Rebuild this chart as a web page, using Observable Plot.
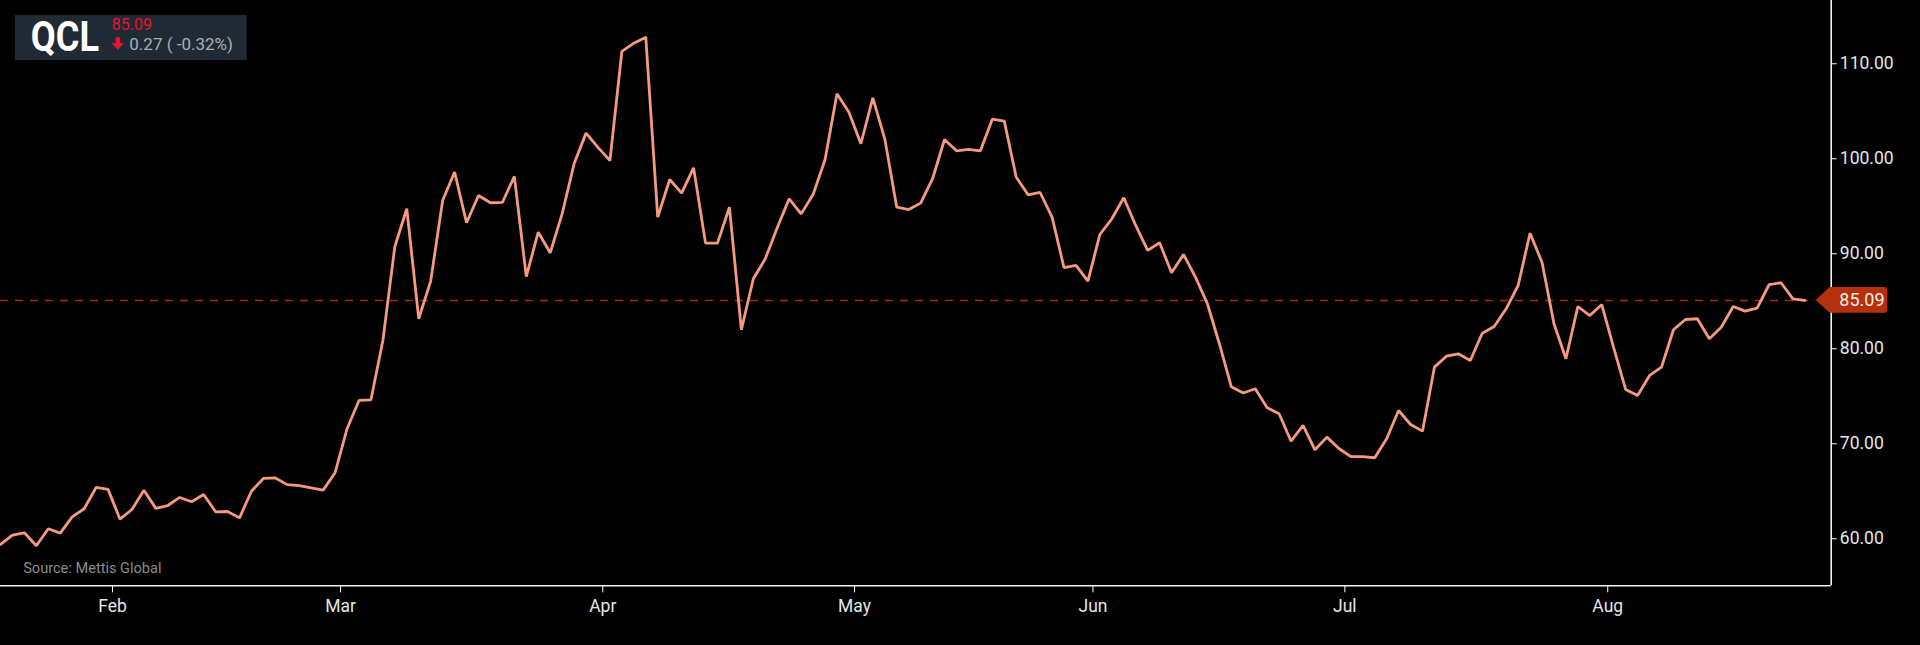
<!DOCTYPE html>
<html>
<head>
<meta charset="utf-8">
<script src="https://cdn.jsdelivr.net/npm/d3@7"></script>
<script src="https://cdn.jsdelivr.net/npm/@observablehq/plot@0.6"></script>
<style>
  html, body { margin: 0; padding: 0; background: #000; }
  #wrap { position: relative; width: 1920px; height: 645px; overflow: hidden; background: #000; font-family: Roboto, sans-serif; }
  #badge { position: absolute; left: 0; top: 0; }
</style>
</head>
<body>
<div id="wrap"></div>
<script>
// ---- data ----
const symbol = "QCL";
const lastValue = 85.09;
const changeText = "0.27 ( -0.32%)";
const source = "Source: Mettis Global";

const values = [
  59.4, 60.38, 60.63, 59.26, 61.05, 60.6, 62.3, 63.16, 65.4, 65.2,
  62.06, 63.08, 65.1, 63.2, 63.5, 64.35, 63.9, 64.66, 62.84, 62.87,
  62.2, 65.0, 66.35, 66.4, 65.7, 65.6, 65.37, 65.12, 66.95, 71.58,
  74.56, 74.63, 80.87, 90.77, 94.74, 83.16, 87.12, 95.6, 98.6, 93.26,
  96.14, 95.37, 95.4, 98.14, 87.6, 92.27, 90.1, 94.2, 99.47, 102.7,
  101.2, 99.8, 111.3, 112.17, 112.8, 93.85, 97.82, 96.38, 99.05, 91.12,
  91.12, 94.9, 82.0, 87.37, 89.47, 92.74, 95.79, 94.2, 96.24, 99.9,
  106.84, 104.9, 101.58, 106.42, 102.1, 94.9, 94.66, 95.33, 97.9, 102.03,
  100.84, 101.0, 100.84, 104.17, 103.96, 98.06, 96.2, 96.45, 93.85, 88.53,
  88.77, 87.12, 92.03, 93.68, 95.89, 92.98, 90.35, 91.16, 88.0, 89.93,
  87.54, 84.74, 80.53, 76.0, 75.35, 75.79, 73.79, 73.16, 70.27, 71.93,
  69.37, 70.7, 69.5, 68.65, 68.65, 68.53, 70.53, 73.5, 72.03, 71.33,
  78.07, 79.22, 79.47, 78.77, 81.64, 82.35, 84.21, 86.66, 92.17, 89.1,
  82.63, 78.95, 84.45, 83.5, 84.66, 80.1, 75.72, 75.08, 77.19, 78.07,
  82.0, 83.08, 83.16, 81.05, 82.27, 84.45, 83.96, 84.27, 86.74, 86.95,
  85.26, 85.09
];

// month tick positions (in trading-session index units) and labels
const monthPos = [9.37, 28.45, 50.4, 71.47, 91.42, 112.5, 134.5];
const monthLabels = ["Feb", "Mar", "Apr", "May", "Jun", "Jul", "Aug"];
const yTicks = [60, 70, 80, 90, 100, 110];
const xDomain = [0, 153.2];
const yDomain = [55.05, 116.66];

const data = values.map((v, i) => ({i, v}));

// price tag on the right axis, positioned through the y scale
function priceTag(index, scales, vals, dims) {
  const y = scales.y(lastValue);
  const x0 = dims.width - dims.marginRight;
  const g = d3.create("svg:g");
  const h = 12.8, w = 56.6, r = 3;
  g.append("path")
    .attr("fill", "#b6300e")
    .attr("d", `M${x0 - 15},${y} L${x0 - 1},${y - h} H${x0 + w - r} Q${x0 + w},${y - h} ${x0 + w},${y - h + r} V${y + h - r} Q${x0 + w},${y + h} ${x0 + w - r},${y + h} H${x0 - 1} Z`);
  g.append("text")
    .attr("x", x0 + 8.6).attr("y", y).attr("dy", "0.35em")
    .attr("text-anchor", "start")
    .attr("fill", "#f5ebe6").attr("font-size", 18).attr("font-family", "Roboto, sans-serif")
    .text(lastValue.toFixed(2));
  return g.node();
}

const chart = Plot.plot({
  width: 1920, height: 645,
  marginLeft: 0, marginRight: 89.3, marginTop: 0, marginBottom: 59.7,
  x: {domain: xDomain},
  y: {domain: yDomain},
  style: {background: "#000", color: "#e6e6e6", fontFamily: "Roboto, sans-serif", overflow: "visible"},
  marks: [
    Plot.ruleY([lastValue], {stroke: "#a62a0c", strokeWidth: 1.5, strokeDasharray: "8,7", insetRight: 15}),
    Plot.lineY(data, {x: "i", y: "v", stroke: "#f59a7e", strokeWidth: 2.8, strokeLinejoin: "miter"}),
    Plot.text([source], {text: d => d, frameAnchor: "bottom-left", dx: 22.7, dy: -17.3, textAnchor: "start", lineAnchor: "middle", fill: "#8a8a8a", fontSize: 15}),
    Plot.axisY({anchor: "right", ticks: yTicks, tickFormat: d => d.toFixed(2), tickSize: 5, tickPadding: 3.6, stroke: "#fff", fill: "#e6e6e6", fontSize: 17.5, label: null}),
    Plot.axisX({anchor: "bottom", ticks: monthPos, tickFormat: d => monthLabels[monthPos.indexOf(d)], tickSize: 7, tickPadding: 5.5, stroke: "#fff", fill: "#e6e6e6", fontSize: 19, label: null}),
    Plot.ruleX([xDomain[1]], {stroke: "#f2f2f2", strokeWidth: 1.6}),
    Plot.ruleY([yDomain[0]], {stroke: "#f2f2f2", strokeWidth: 1.6}),
    priceTag
  ]
});

const wrap = document.getElementById("wrap");
wrap.appendChild(chart);

// condensed look for the x tick labels and source line
chart.querySelectorAll('g[aria-label="x-axis tick label"] text').forEach(t => {
  const L = t.getComputedTextLength();
  t.setAttribute("textLength", (L * 0.92).toFixed(1));
  t.setAttribute("lengthAdjust", "spacingAndGlyphs");
});
chart.querySelectorAll("text").forEach(t => {
  if (t.textContent === source) {
    t.setAttribute("textLength", "138.3");
    t.setAttribute("lengthAdjust", "spacingAndGlyphs");
  }
});

// ticker badge overlay (top-left)
const badge = d3.select(wrap).append("svg").attr("id", "badge")
  .attr("width", 260).attr("height", 70);
badge.append("rect").attr("x", 15).attr("y", 15).attr("width", 231.7).attr("height", 45).attr("fill", "#1f2a35");
badge.append("text").attr("x", 30.7).attr("y", 50.7)
  .attr("font-family", "Roboto, sans-serif").attr("font-weight", 700).attr("font-size", 42)
  .attr("fill", "#fff").attr("textLength", 68.3).attr("lengthAdjust", "spacingAndGlyphs")
  .text(symbol);
badge.append("text").attr("x", 111.7).attr("y", 30)
  .attr("font-family", "Roboto, sans-serif").attr("font-size", 16).attr("fill", "#e8132f")
  .text(lastValue.toFixed(2));
badge.append("path").attr("fill", "#e8132f")
  .attr("d", "M115.6,37.3 H120.2 V43 H124 L117.9,50 L111.7,43 H115.6 Z");
badge.append("text").attr("x", 129.3).attr("y", 50)
  .attr("font-family", "Roboto, sans-serif").attr("font-size", 17).attr("fill", "#a9afb6")
  .text(changeText);
</script>
</body>
</html>
